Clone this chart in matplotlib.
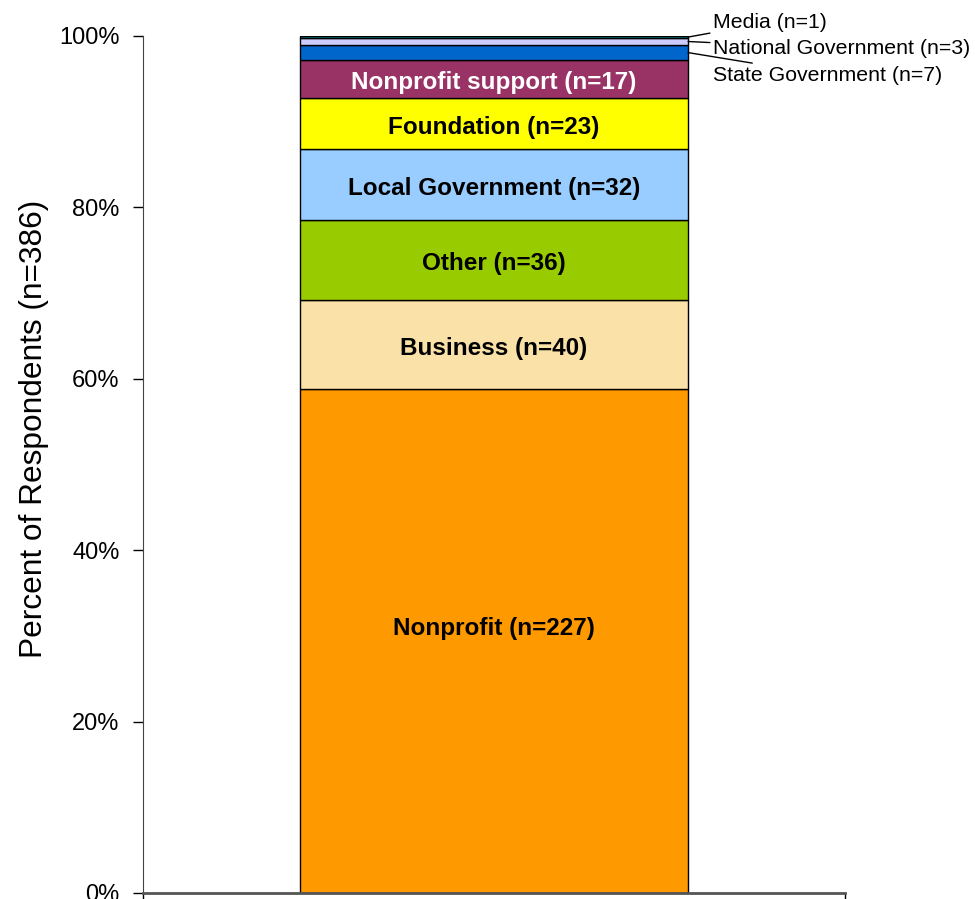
import matplotlib as mpl
from matplotlib import pyplot as plt
from matplotlib.ticker import PercentFormatter

mpl.rcParams['font.family'] = ['Liberation Sans', 'DejaVu Sans']

# respondent counts by sector, bottom of the stack first
sectors = ['Nonprofit', 'Business', 'Other', 'Local Government', 'Foundation',
           'Nonprofit support', 'State Government', 'National Government', 'Media']
counts = [227, 40, 36, 32, 23, 17, 7, 3, 1]
colors = ['#FF9900', '#FAE1A8', '#99CC00', '#99CCFF', '#FFFF00',
          '#993366', '#0066CC', '#CCCCFF', '#008080']
label_colors = ['black'] * 5 + ['white']

total = sum(counts)
shares = [100 * c / total for c in counts]

fig = plt.figure(figsize=(9.75, 8.99), dpi=100)
ax = fig.add_axes([0.1467, 0.0067, 0.72, 0.9533])

bar_w = 0.553
bottom = 0
mids = []
for share, color in zip(shares, colors):
    ax.bar(0, share, width=bar_w, bottom=bottom, color=color,
           edgecolor='black', linewidth=1.0)
    mids.append(bottom + share / 2)
    bottom += share

# big segments get their label inside the bar
for i, (name, n) in enumerate(zip(sectors[:6], counts[:6])):
    y = mids[i] + (1.5 if i == 0 else -0.4)
    ax.text(0, y, f'{name} (n={n})', ha='center', va='center',
            fontsize=17.5, fontweight='bold', color=label_colors[i])

# thin segments are labelled off to the right with leader lines
text_y = {'Media': 101.6, 'National Government': 98.5, 'State Government': 95.4}
for i in range(6, 9):
    name = sectors[i]
    ax.annotate(f'{name} (n={counts[i]})', xy=(bar_w / 2, mids[i]),
                xytext=(bar_w / 2 + 0.035, text_y[name]),
                textcoords='data', ha='left', va='center', fontsize=15.3,
                arrowprops=dict(arrowstyle='-', color='black', lw=1.0,
                                shrinkA=0, shrinkB=0),
                annotation_clip=False)

ax.set_xlim(-0.5, 0.5)
ax.set_ylim(0, 100)
ax.set_yticks(range(0, 101, 20))
ax.yaxis.set_major_formatter(PercentFormatter(decimals=0))
ax.set_xticks([-0.5, 0.5])
ax.set_xticklabels(['', ''])
ax.tick_params(axis='y', direction='out', length=7, width=1, labelsize=17,
               pad=10)
ax.tick_params(axis='x', direction='out', length=7, width=1)
ax.set_ylabel('Percent of Respondents (n=386)', fontsize=22.8)
ax.yaxis.set_label_coords(-0.134, 0.541)

for side in ('top', 'right'):
    ax.spines[side].set_visible(False)
ax.spines['left'].set_color('#444444')
ax.spines['bottom'].set_color('#555555')
ax.spines['bottom'].set_linewidth(2)

fig.savefig('out.png', dpi=100)
